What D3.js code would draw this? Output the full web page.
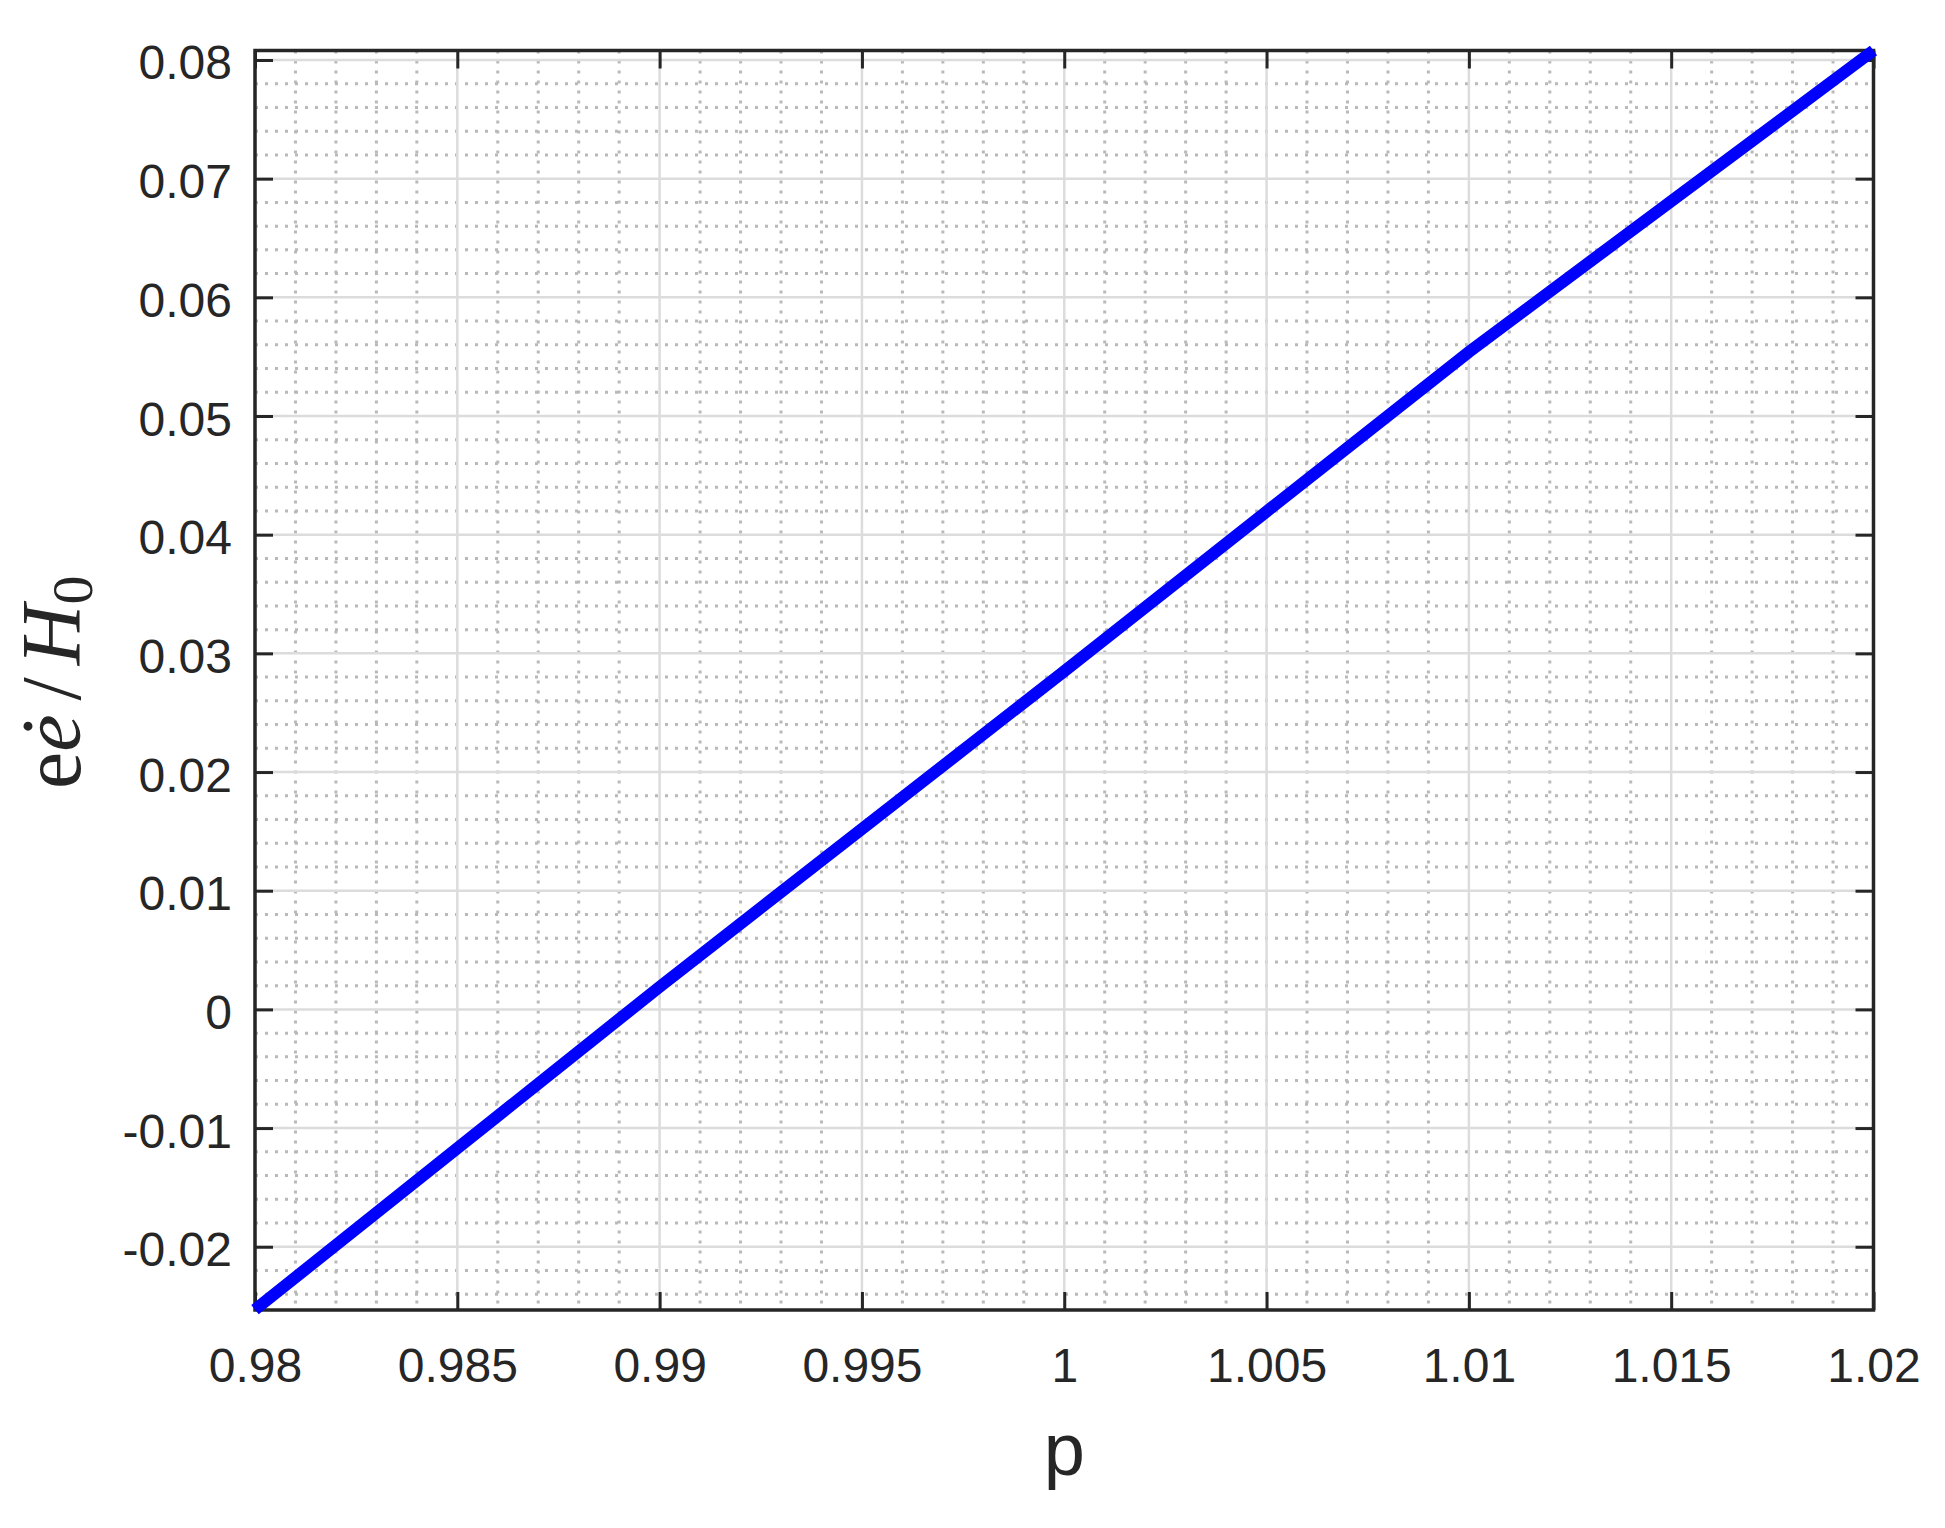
<!DOCTYPE html>
<html>
<head>
<meta charset="utf-8">
<script src="https://cdn.jsdelivr.net/npm/d3@7"></script>
<style>
  body { margin: 0; background: #fff; }
  text { fill: #262626; }
</style>
</head>
<body>
<script>
var width = 1945,
    height = 1528;

// data
var pVals = [0.98, 0.99, 1.00, 1.01, 1.02];
var eeVals = [-0.0253, 0.0019, 0.0285, 0.0554, 0.0808];

var xTicks = [0.98, 0.985, 0.99, 0.995, 1, 1.005, 1.01, 1.015, 1.02];
var xTickLabels = ["0.98", "0.985", "0.99", "0.995", "1", "1.005", "1.01", "1.015", "1.02"];
var yTicks = [-0.02, -0.01, 0, 0.01, 0.02, 0.03, 0.04, 0.05, 0.06, 0.07, 0.08];
var yTickLabels = ["-0.02", "-0.01", "0", "0.01", "0.02", "0.03", "0.04", "0.05", "0.06", "0.07", "0.08"];

//plot box (window.top is reserved, so use own names)
var boxL = 255, boxR = 1873.5, boxT = 50.5, boxB = 1310;

var x = d3.scaleLinear().domain([0.98, 1.02]).range([boxL, boxR]);
var y = d3.scaleLinear().domain([-0.02533, 0.0808]).range([boxB, boxT]);

var svg = d3.select("body")
    .append("svg")
    .attr("width", width)
    .attr("height", height);

// minor grid positions
var xMinor = d3.range(0, 41).map(function(i) { return 0.98 + i * 0.001; })
    .filter(function(v, i) { return i % 5 != 0; });
var yMinor = d3.range(-12, 41).map(function(i) { return i * 0.002; })
    .filter(function(v) { return Math.abs(Math.round(v * 1000)) % 10 != 0; })
    .filter(function(v) { return v > -0.0253 && v < 0.0808; });

var grid = svg.append("g");

grid.selectAll(".xminor").data(xMinor).enter().append("line")
    .attr("x1", function(d) { return x(d); })
    .attr("x2", function(d) { return x(d); })
    .attr("y1", boxT).attr("y2", boxB)
    .style("stroke", "#b9b9b9")
    .style("stroke-width", 3)
    .style("stroke-dasharray", "3,7");

grid.selectAll(".yminor").data(yMinor).enter().append("line")
    .attr("y1", function(d) { return y(d); })
    .attr("y2", function(d) { return y(d); })
    .attr("x1", boxL).attr("x2", boxR)
    .style("stroke", "#b9b9b9")
    .style("stroke-width", 3)
    .style("stroke-dasharray", "3,7");

grid.selectAll(".xmajor").data(xTicks).enter().append("line")
    .attr("x1", function(d) { return x(d); })
    .attr("x2", function(d) { return x(d); })
    .attr("y1", boxT).attr("y2", boxB)
    .style("stroke", "#dcdcdc")
    .style("stroke-width", 2.5);

grid.selectAll(".ymajor").data(yTicks).enter().append("line")
    .attr("y1", function(d) { return y(d); })
    .attr("y2", function(d) { return y(d); })
    .attr("x1", boxL).attr("x2", boxR)
    .style("stroke", "#dcdcdc")
    .style("stroke-width", 2.5);

// axes with inward ticks on all four sides
var tickLen = 18;
var ax = svg.append("g");

function axisGroup(axis, tx, ty) {
    var g = ax.append("g")
        .attr("transform", "translate(" + tx + "," + ty + ")")
        .call(axis);
    g.select(".domain").remove();
    g.selectAll(".tick line").style("stroke", "#262626").style("stroke-width", 3);
    return g;
}

var gBottom = axisGroup(d3.axisBottom(x).tickValues(xTicks).tickSizeInner(-tickLen).tickSizeOuter(0)
    .tickFormat(function(d, i) { return xTickLabels[i]; }), 0, boxB);
gBottom.selectAll("text")
    .attr("y", 72).attr("dy", 0)
    .style("font-family", "'Liberation Sans', Arial, sans-serif")
    .style("font-size", "48px")
    .style("fill", "#262626");

axisGroup(d3.axisTop(x).tickValues(xTicks).tickSizeInner(-tickLen).tickSizeOuter(0)
    .tickFormat(""), 0, boxT);

var gLeft = axisGroup(d3.axisLeft(y).tickValues(yTicks).tickSizeInner(-tickLen).tickSizeOuter(0)
    .tickFormat(function(d, i) { return yTickLabels[i]; }), boxL, 0);
gLeft.selectAll("text")
    .attr("x", -23).attr("dy", 0).attr("y", 19)
    .style("font-family", "'Liberation Sans', Arial, sans-serif")
    .style("font-size", "48px")
    .style("fill", "#262626");

axisGroup(d3.axisRight(y).tickValues(yTicks).tickSizeInner(-tickLen).tickSizeOuter(0)
    .tickFormat(""), boxR, 0);

ax.append("rect")
    .attr("x", boxL).attr("y", boxT)
    .attr("width", boxR - boxL).attr("height", boxB - boxT)
    .style("fill", "none")
    .style("stroke", "#262626")
    .style("stroke-width", 3.5);

// the curve
var line = d3.line()
    .x(function(d, i) { return x(pVals[i]); })
    .y(function(d) { return y(d); });

svg.append("path")
    .datum(eeVals)
    .attr("d", line)
    .style("fill", "none")
    .style("stroke", "#0000ff")
    .style("stroke-width", 12)
    .style("stroke-linecap", "butt");

// axis labels
svg.append("text")
    .attr("x", (boxL + boxR) / 2)
    .attr("y", 1475)
    .attr("text-anchor", "middle")
    .style("font-family", "'Liberation Sans', Arial, sans-serif")
    .style("font-size", "74px")
    .text("p");

var ylab = svg.append("text")
    .attr("transform", "translate(80," + ((boxT + boxB) / 2 + 2) + ") rotate(-90)")
    .attr("text-anchor", "middle")
    .style("font-family", "'Liberation Serif', 'Times New Roman', serif")
    .style("font-size", "84px");
ylab.append("tspan").text("e");
ylab.append("tspan").style("font-style", "italic").text("\u0117");
ylab.append("tspan").attr("dx", 14).text("/");
ylab.append("tspan").attr("dx", 12).style("font-style", "italic").text("H");
ylab.append("tspan").attr("dy", 12).style("font-size", "58px").text("0");
</script>
</body>
</html>
